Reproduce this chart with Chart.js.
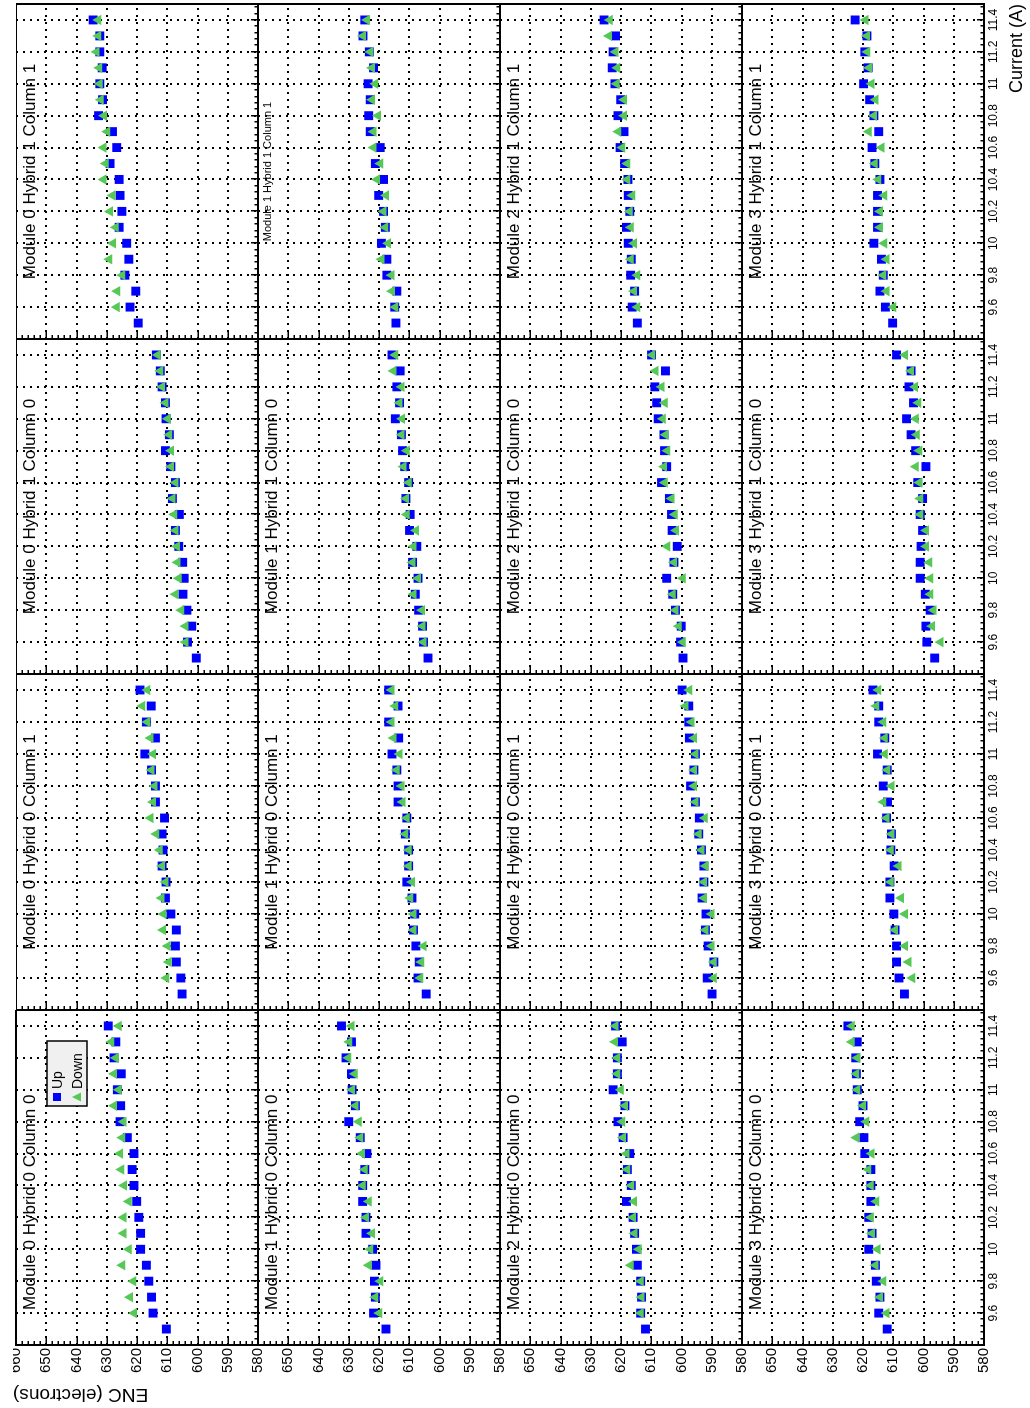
<!DOCTYPE html>
<html>
<head>
<meta charset="utf-8">
<title>ENC vs current, all modules</title>
<script src="https://cdn.jsdelivr.net/npm/chart.js@4.4.1/dist/chart.umd.min.js"></script>
<style>
  html, body { margin: 0; padding: 0; background: #fff; overflow: hidden; }
  #sheet {
    position: absolute; left: 0; top: 0; width: 1408px; height: 1030px; background: #fff;
    transform-origin: 0 0; transform: translate(0px, 1408px) rotate(-90deg);
  }
  #sheet canvas { position: absolute; }
</style>
</head>
<body>
<div id="sheet"></div>
<script>
// Supply current settings (A)
const upCurrents   = [9.5, 9.6, 9.7, 9.8, 9.9, 10.0, 10.1, 10.2, 10.3, 10.4, 10.5, 10.6, 10.7, 10.8, 10.9, 11.0, 11.1, 11.2, 11.3, 11.4];
const downCurrents = [9.6, 9.7, 9.8, 9.9, 10.0, 10.1, 10.2, 10.3, 10.4, 10.5, 10.6, 10.7, 10.8, 10.9, 11.0, 11.1, 11.2, 11.3, 11.4];

// Axis tick labels
const currentTicks = [9.6, 9.8, 10, 10.2, 10.4, 10.6, 10.8, 11, 11.2, 11.4];
const encTicks = [580, 590, 600, 610, 620, 630, 640, 650, 660];

const moduleLabels = ['Module 0', 'Module 1', 'Module 2', 'Module 3'];
const padLabels = ['Hybrid 0 Column 0', 'Hybrid 0 Column 1', 'Hybrid 1 Column 0', 'Hybrid 1 Column 1'];
const seriesLabels = ['Up', 'Down'];

// ENC (electrons), Up scan
const upM0H0C0 = [610.3, 614.7, 615.2, 616.1, 616.9, 618.8, 618.8, 619.4, 620.1, 621.0, 621.6, 621.0, 623.2, 625.6, 625.4, 626.5, 625.2, 627.6, 627.0, 629.5];
const upM0H0C1 = [605.1, 605.5, 607.0, 607.3, 607.0, 608.8, 610.6, 610.4, 611.7, 611.4, 611.7, 610.9, 613.9, 613.9, 615.2, 617.4, 613.9, 616.9, 615.3, 619.0];
const upM0H1C0 = [600.4, 603.3, 601.9, 603.5, 604.8, 604.4, 604.9, 606.2, 607.3, 606.0, 608.3, 607.3, 608.8, 610.6, 609.3, 610.4, 610.6, 611.7, 612.3, 613.6];
const upM0H1C1 = [619.6, 622.3, 620.4, 624.0, 622.7, 623.4, 625.9, 625.0, 625.6, 625.9, 628.9, 626.7, 628.1, 632.7, 631.4, 632.3, 631.5, 632.3, 632.3, 634.5];
const upM1H0C0 = [617.7, 621.8, 621.2, 621.5, 621.0, 622.1, 624.3, 624.3, 625.4, 625.4, 624.7, 624.0, 626.2, 630.0, 627.8, 628.9, 629.1, 630.9, 629.1, 632.4];
const upM1H0C1 = [604.4, 607.1, 606.7, 607.8, 608.6, 608.2, 609.1, 610.8, 610.2, 610.2, 611.3, 610.8, 613.7, 613.7, 614.1, 615.7, 613.5, 616.8, 613.7, 616.8];
const upM1H1C0 = [603.8, 605.3, 605.6, 606.9, 608.0, 607.1, 608.9, 607.5, 609.9, 609.7, 611.1, 610.2, 611.5, 612.2, 612.6, 614.6, 613.2, 614.1, 613.0, 615.7];
const upM1H1C1 = [614.4, 614.8, 614.1, 617.4, 617.4, 619.2, 617.9, 618.5, 620.1, 618.5, 621.2, 619.6, 622.9, 623.4, 622.9, 623.6, 621.8, 623.2, 625.3, 624.7];
const upM2H0C0 = [611.9, 613.5, 613.2, 613.5, 614.6, 614.9, 615.5, 616.0, 618.2, 616.6, 617.9, 617.1, 619.3, 621.0, 618.7, 622.6, 621.2, 621.2, 619.6, 621.8];
const upM2H0C1 = [589.9, 591.5, 589.3, 591.2, 592.1, 591.9, 593.2, 592.6, 592.6, 593.4, 594.3, 594.1, 595.4, 597.0, 595.9, 595.4, 597.4, 597.6, 597.6, 599.8];
const upM2H1C0 = [599.5, 600.3, 600.1, 602.0, 602.9, 604.9, 602.5, 601.4, 603.1, 603.3, 604.0, 606.6, 604.9, 605.6, 605.8, 607.7, 608.2, 608.8, 605.3, 609.9];
const upM2H1C1 = [614.6, 616.3, 615.5, 616.8, 616.6, 617.6, 618.2, 617.1, 617.6, 617.7, 618.8, 620.3, 619.0, 621.0, 620.1, 622.0, 622.9, 622.6, 621.8, 625.6];
const upM3H0C0 = [612.0, 614.8, 614.4, 615.6, 615.9, 618.1, 617.0, 618.1, 617.4, 617.4, 617.4, 619.4, 619.7, 621.1, 620.0, 621.9, 622.2, 622.4, 621.9, 625.0];
const upM3H0C1 = [606.3, 608.1, 608.9, 608.9, 609.4, 609.8, 611.1, 611.1, 609.7, 610.8, 610.6, 612.2, 611.9, 613.3, 612.0, 615.2, 612.8, 614.8, 614.8, 616.7];
const upM3H1C0 = [596.3, 598.9, 599.2, 597.8, 599.4, 601.1, 601.1, 600.8, 600.3, 601.1, 600.3, 601.9, 599.2, 602.6, 604.1, 605.6, 603.3, 604.8, 604.1, 608.9];
const upM3H1C1 = [610.2, 612.6, 614.4, 613.3, 613.9, 616.4, 615.2, 615.2, 615.2, 614.4, 616.1, 617.0, 614.8, 616.4, 617.8, 619.8, 618.3, 619.4, 618.7, 622.6];

// ENC (electrons), Down scan
const downM0H0C0 = [621.0, 622.3, 621.2, 624.9, 622.7, 624.5, 624.5, 622.7, 624.3, 625.2, 625.6, 624.9, 624.5, 627.6, 626.0, 627.6, 627.0, 628.5, 626.0];
const downM0H0C1 = [610.3, 609.5, 609.8, 611.4, 611.2, 611.9, 610.6, 611.7, 612.5, 613.6, 615.5, 614.7, 614.2, 615.2, 614.7, 615.5, 616.6, 618.3, 616.6];
const downM0H1C0 = [604.0, 604.0, 605.4, 607.3, 606.2, 606.6, 606.8, 607.3, 607.7, 608.3, 607.3, 608.8, 608.8, 609.3, 609.8, 610.6, 611.7, 612.3, 613.1];
const downM0H1C1 = [626.7, 626.5, 624.9, 629.2, 627.9, 627.0, 628.9, 628.1, 631.1, 630.3, 631.1, 629.8, 630.9, 632.0, 632.3, 632.5, 633.4, 632.8, 632.8];
const downM1H0C0 = [619.9, 621.2, 619.6, 623.4, 622.9, 622.3, 624.3, 623.4, 625.4, 624.7, 625.6, 626.2, 626.7, 627.8, 628.9, 628.0, 630.2, 629.8, 629.1];
const downM1H0C1 = [606.4, 606.0, 605.3, 608.6, 608.6, 609.7, 609.1, 610.2, 610.2, 611.3, 610.8, 612.2, 612.6, 614.1, 613.2, 615.2, 615.9, 614.6, 615.9];
const downM1H1C0 = [605.3, 605.6, 605.8, 608.6, 607.1, 608.9, 608.6, 607.8, 610.8, 611.1, 610.2, 611.9, 610.8, 612.6, 612.4, 613.2, 612.6, 615.2, 614.6];
const downM1H1C1 = [614.6, 615.7, 615.9, 619.2, 617.0, 617.9, 618.5, 617.7, 620.7, 619.6, 621.8, 621.8, 620.3, 622.3, 621.2, 622.3, 622.9, 625.3, 624.0];
const downM2H0C0 = [613.5, 613.2, 613.5, 616.8, 614.1, 615.5, 616.0, 615.7, 616.6, 617.9, 618.2, 619.3, 619.6, 618.7, 620.1, 621.2, 621.2, 622.0, 621.8];
const downM2H0C1 = [589.3, 589.3, 590.1, 592.1, 590.1, 592.6, 592.6, 592.1, 593.4, 594.3, 592.3, 595.4, 595.9, 595.9, 595.4, 595.9, 596.7, 598.7, 597.4];
const downM2H1C0 = [599.6, 600.9, 602.0, 602.9, 599.6, 602.5, 604.7, 601.8, 602.2, 603.3, 605.5, 605.8, 604.7, 605.3, 606.2, 605.5, 606.6, 608.6, 609.7];
const downM2H1C1 = [614.6, 615.7, 614.6, 616.8, 615.7, 616.8, 617.1, 616.3, 617.9, 617.9, 619.6, 620.9, 619.0, 619.0, 621.5, 621.2, 621.8, 624.0, 623.7];
const downM3H0C0 = [612.2, 614.4, 613.3, 615.9, 615.2, 617.0, 617.4, 615.6, 617.4, 618.3, 617.2, 622.2, 618.9, 620.0, 621.9, 622.2, 621.9, 623.7, 623.7];
const downM3H0C1 = [603.7, 605.0, 606.1, 609.4, 606.1, 607.4, 610.8, 608.3, 610.8, 610.6, 612.2, 613.3, 610.6, 612.0, 612.8, 612.8, 613.3, 615.6, 615.0];
const downM3H1C0 = [594.4, 597.2, 596.7, 597.8, 597.8, 598.1, 599.2, 599.2, 601.1, 601.1, 601.4, 602.6, 601.4, 602.2, 602.6, 601.7, 602.8, 604.1, 606.1];
const downM3H1C1 = [610.0, 612.2, 613.3, 612.2, 613.0, 614.4, 614.4, 613.0, 615.0, 616.1, 613.9, 618.1, 616.4, 615.9, 617.2, 618.0, 618.6, 618.7, 619.2];

// rows = modules, columns = hybrid/column pads
const upGrid = [
  [upM0H0C0, upM0H0C1, upM0H1C0, upM0H1C1],
  [upM1H0C0, upM1H0C1, upM1H1C0, upM1H1C1],
  [upM2H0C0, upM2H0C1, upM2H1C0, upM2H1C1],
  [upM3H0C0, upM3H0C1, upM3H1C0, upM3H1C1]
];
const downGrid = [
  [downM0H0C0, downM0H0C1, downM0H1C0, downM0H1C1],
  [downM1H0C0, downM1H0C1, downM1H1C0, downM1H1C1],
  [downM2H0C0, downM2H0C1, downM2H1C0, downM2H1C1],
  [downM3H0C0, downM3H0C1, downM3H1C0, downM3H1C1]
];

// ---- page geometry (the sheet is landscape, turned onto the portrait page) ----
const colEdges = [63, 398, 734, 1069, 1404];
const rowEdges = [16, 258, 500, 742, 984];
const FONT = "'Liberation Sans', Arial, Helvetica, sans-serif";
const UP_COLOR = '#0000ff';
const DOWN_COLOR = '#55c855';

// minor tick positions: ENC every 2 e-, current every 0.04 A
const encMinor = [];
for (let v = 580; v <= 660; v += 2) encMinor.push(v);
const curMinor = [];
for (let k = 0; k <= 52; k++) curMinor.push(+(9.4 + 0.04 * k).toFixed(2));

function zeroPad(s) { s.paddingTop = 0; s.paddingBottom = 0; s.paddingLeft = 0; s.paddingRight = 0; }

// frame, inward ticks and pad title
const padFrame = {
  id: 'padFrame',
  beforeDraw(chart, args, opts) {
    // the axis title sits a little past the end of the ENC axis
    if (opts.titleShift) chart.scales.y.top -= opts.titleShift;
  },
  afterDatasetsDraw(chart, args, opts) {
    const { ctx, chartArea: a, scales } = chart;
    ctx.save();
    ctx.strokeStyle = '#000';
    ctx.lineWidth = 1.5;
    ctx.beginPath();
    encMinor.forEach(v => {
      const y = Math.round(scales.y.getPixelForValue(v)) + 0.25;
      const len = (v % 10 === 0) ? 8 : 4;
      ctx.moveTo(a.left, y); ctx.lineTo(a.left + len, y);
    });
    curMinor.forEach((v, k) => {
      const x = Math.round(scales.x.getPixelForValue(v)) + 0.25;
      const len = (k % 5 === 0) ? 7 : 3.5;
      ctx.moveTo(x, a.bottom); ctx.lineTo(x, a.bottom - len);
    });
    ctx.stroke();
    ctx.lineWidth = 2;
    ctx.strokeRect(a.left, a.top, a.right - a.left, a.bottom - a.top);
    ctx.fillStyle = '#000';
    ctx.font = opts.size + 'px ' + FONT;
    ctx.textBaseline = 'alphabetic';
    if (opts.centered) {
      ctx.textAlign = 'center';
      ctx.fillText(opts.text, (a.left + a.right) / 2, a.top + opts.dy);
    } else {
      ctx.textAlign = 'left';
      ctx.fillText(opts.text, a.left + opts.dx, a.top + opts.dy);
    }
    ctx.restore();
  }
};

// boxed legend inside the first pad
const boxLegend = {
  id: 'boxLegend',
  afterDraw(chart, args, opts) {
    if (!opts.show) return;
    const { ctx, chartArea: a } = chart;
    const x = a.left + 239, y = a.top + 31, w = 65, h = 40;
    ctx.save();
    ctx.fillStyle = '#f0f0f0';
    ctx.fillRect(x, y, w, h);
    ctx.lineWidth = 1.5;
    ctx.strokeStyle = '#000';
    ctx.strokeRect(x, y, w, h);
    chart.data.datasets.forEach((ds, i) => {
      const cy = y + 10 + 20 * i;
      ctx.fillStyle = ds.pointBackgroundColor;
      ctx.beginPath();
      if (ds.pointStyle === 'rect') {
        ctx.rect(x + 5, cy - 4, 8, 8);
      } else {
        ctx.moveTo(x + 9, cy - 5); ctx.lineTo(x + 13.5, cy + 4); ctx.lineTo(x + 4.5, cy + 4); ctx.closePath();
      }
      ctx.fill();
      ctx.fillStyle = '#000';
      ctx.font = '14px ' + FONT;
      ctx.textAlign = 'left';
      ctx.textBaseline = 'middle';
      ctx.fillText(ds.label, x + 17, cy + 1);
    });
    ctx.restore();
  }
};

const sheet = document.getElementById('sheet');

for (let r = 0; r < 4; r++) {
  for (let c = 0; c < 4; c++) {
    const L = colEdges[c], R = colEdges[c + 1], T = rowEdges[r], B = rowEdges[r + 1];
    const yW = c === 0 ? 63 : 0;
    const xH = r === 3 ? 46 : 12;
    const extraR = c === 3 ? 4 : 0;
    const extraT = (r === 0 && c === 0) ? 3 : 0;   // room for the axis title end
    const cv = document.createElement('canvas');
    cv.width = yW + (R - L) + extraR;
    cv.height = (B - T) + xH + extraT;
    cv.style.left = (L - yW) + 'px';
    cv.style.top = (T - extraT) + 'px';
    sheet.appendChild(cv);

    const small = (r === 1 && c === 3);

    new Chart(cv, {
      type: 'scatter',
      data: {
        datasets: [
          {
            label: seriesLabels[0],
            data: upCurrents.map((x, i) => ({ x: x, y: upGrid[r][c][i] })),
            pointStyle: 'rect', pointRadius: 6.3, pointBackgroundColor: UP_COLOR,
            pointBorderColor: UP_COLOR, pointBorderWidth: 0, order: 2
          },
          {
            label: seriesLabels[1],
            data: downCurrents.map((x, i) => ({ x: x, y: downGrid[r][c][i] })),
            pointStyle: 'triangle', pointRadius: 6, pointBackgroundColor: DOWN_COLOR,
            pointBorderColor: DOWN_COLOR, pointBorderWidth: 0, order: 1
          }
        ]
      },
      options: {
        responsive: false,
        animation: false,
        events: [],
        devicePixelRatio: 1,
        layout: { autoPadding: false, padding: { left: 0, top: extraT, right: extraR, bottom: 0 } },
        plugins: {
          legend: { display: false },
          tooltip: { enabled: false },
          padFrame: {
            text: moduleLabels[r] + ' ' + padLabels[c],
            size: small ? 11 : 17,
            centered: c > 0,
            dx: 35,
            dy: small ? 13 : 19,
            titleShift: extraT
          },
          boxLegend: { show: r === 0 && c === 0 }
        },
        scales: {
          x: {
            type: 'linear', position: 'bottom', min: 9.4, max: 11.5,
            afterBuildTicks: s => { s.ticks = currentTicks.map(v => ({ value: v })); },
            grid: { color: '#000', lineWidth: 2, drawTicks: false },
            border: { display: false, dash: [2, 5] },
            ticks: {
              display: r === 3, autoSkip: false, maxRotation: 0, minRotation: 0, padding: 2,
              color: '#000', font: { family: FONT, size: 12 },
              callback: v => String(v)
            },
            title: {
              display: r === 3 && c === 3, text: 'Current (A)', align: 'end', color: '#000',
              font: { family: FONT, size: 18 }, padding: { top: 0, bottom: 2 }
            },
            afterFit: s => { s.height = xH; zeroPad(s); }
          },
          y: {
            type: 'linear', position: 'left', min: 580, max: 660,
            afterBuildTicks: s => { s.ticks = encTicks.map(v => ({ value: v })); },
            grid: { color: '#000', lineWidth: 2, drawTicks: false },
            border: { display: false, dash: [2, 5] },
            ticks: {
              display: c === 0, autoSkip: false, padding: 3,
              color: '#000', font: { family: FONT, size: 15 },
              callback: v => (r > 0 && v === 660) ? '' : String(v)
            },
            title: {
              display: r === 0 && c === 0, text: 'ENC (electrons)', align: 'end', color: '#000',
              font: { family: FONT, size: 19 }, padding: { top: 2, bottom: 0 }
            },
            afterFit: s => { s.width = yW; zeroPad(s); }
          }
        }
      },
      plugins: [padFrame, boxLegend]
    });
  }
}
</script>
</body>
</html>
